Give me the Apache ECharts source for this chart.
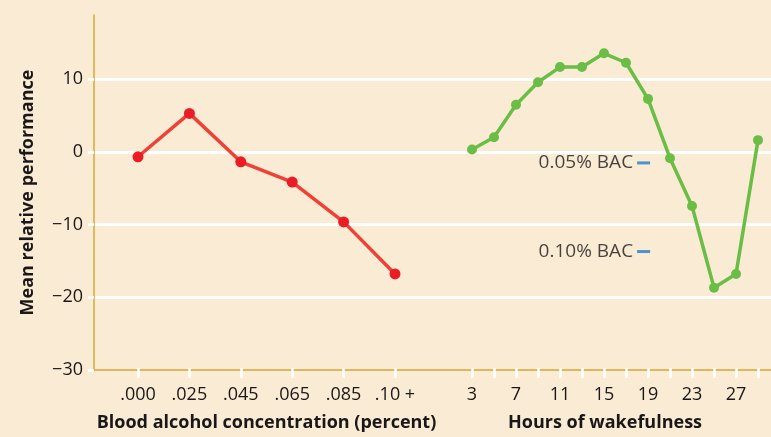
<!DOCTYPE html>
<html>
<head>
<meta charset="utf-8">
<script src="https://cdn.jsdelivr.net/npm/echarts@6/dist/echarts.min.js"></script>
<style>
html,body{margin:0;padding:0;background:#FAEBD4;}
#c{width:771px;height:437px;}
</style>
</head>
<body>
<div id="c"></div>
<script>
var bacCategories = ['.000', '.025', '.045', '.065', '.085', '.10 +'];
var bacValues = [-0.8, 5.2, -1.5, -4.3, -9.8, -17.0];
var hourCategories = ['3','5','7','9','11','13','15','17','19','21','23','25','27','29'];
var hourValues = [0.2, 1.9, 6.4, 9.5, 11.6, 11.6, 13.5, 12.2, 7.2, -1.0, -7.6, -18.9, -17.0, 1.5];
var refLabels = ['0.05% BAC', '0.10% BAC'];
var refValues = [-1.65, -13.9];
var refPosition = 8.3;
var yTicks = [-30, -20, -10, 0, 10];

var FONT = '"Open Sans", "Noto Sans", sans-serif';
var TXT = '#1A1718';
var chart = echarts.init(document.getElementById('c'));
var TOP = 15, BOTTOM = 67, YMIN = -30, YMAX = 18.8;

function hiddenY(gi) {
  return { gridIndex: gi, type: 'value', min: YMIN, max: YMAX, show: false };
}

chart.setOption({
  backgroundColor: '#FAEBD4',
  animation: false,
  grid: [
    { left: 94, right: 0, top: TOP, bottom: BOTTOM },
    { left: 112.3, width: 308.4, top: TOP, bottom: BOTTOM },
    { left: 461, width: 308, top: TOP, bottom: BOTTOM }
  ],
  xAxis: [
    { gridIndex: 0, type: 'value', min: 0, max: 1,
      axisLine: { show: true, onZero: false, lineStyle: { color: '#D9A733', width: 1.5 } },
      axisTick: { show: false }, axisLabel: { show: false }, splitLine: { show: false } },
    { gridIndex: 1, type: 'category', data: bacCategories, boundaryGap: true,
      axisLine: { show: false, onZero: false },
      axisTick: { show: true, alignWithLabel: true, interval: 0, length: 10, lineStyle: { color: '#FFFFFF', width: 2.5 } },
      axisLabel: { interval: 0, hideOverlap: false, margin: 18, color: TXT, fontSize: 18, fontFamily: FONT },
      name: 'Blood alcohol concentration (percent)', nameLocation: 'middle', nameGap: 46,
      nameTextStyle: { color: TXT, fontSize: 18, fontWeight: 'bold', fontFamily: FONT } },
    { gridIndex: 2, type: 'category', data: hourCategories, boundaryGap: true,
      axisLine: { show: false, onZero: false },
      axisTick: { show: true, alignWithLabel: true, interval: 0, length: 10, lineStyle: { color: '#FFFFFF', width: 2.5 } },
      axisLabel: { interval: 1, margin: 18, color: TXT, fontSize: 18, fontFamily: FONT },
      name: 'Hours of wakefulness', nameLocation: 'middle', nameGap: 46,
      nameTextStyle: { color: TXT, fontSize: 18, fontWeight: 'bold', fontFamily: FONT, padding: [0, 20, 0, 0] } },
    { gridIndex: 2, type: 'value', min: 0, max: 14, show: false }
  ],
  yAxis: [
    { gridIndex: 0, type: 'value', min: YMIN, max: YMAX, interval: 10,
      axisLine: { show: true, lineStyle: { color: '#D9A733', width: 1.5 } },
      axisTick: { show: true, length: 6, lineStyle: { color: '#FFFFFF', width: 2.5 } },
      axisLabel: { margin: 11, color: TXT, fontSize: 18, fontFamily: FONT, showMaxLabel: false,
        formatter: function (v) { return yTicks.indexOf(v) >= 0 ? (v < 0 ? '\u2212' + Math.abs(v) : String(v)) : ''; } },
      splitLine: { show: true, showMinLine: false, showMaxLine: false, lineStyle: { color: '#FFFFFF', width: 3 } },
      name: 'Mean relative performance', nameLocation: 'middle', nameGap: 57,
      nameTextStyle: { color: TXT, fontSize: 18, fontWeight: 'bold', fontFamily: FONT } },
    hiddenY(1),
    hiddenY(2)
  ],
  series: [
    { type: 'line', xAxisIndex: 1, yAxisIndex: 1, data: bacValues,
      symbol: 'circle', symbolSize: 11,
      lineStyle: { color: '#EF4136', width: 3.5 },
      itemStyle: { color: '#EC1C24' } },
    { type: 'line', xAxisIndex: 2, yAxisIndex: 2, data: hourValues,
      symbol: 'circle', symbolSize: 10,
      lineStyle: { color: '#6ABD45', width: 3.5 },
      itemStyle: { color: '#6ABD45' } },
    { type: 'scatter', xAxisIndex: 3, yAxisIndex: 2,
      data: refValues.map(function (v, i) { return { name: refLabels[i], value: [refPosition, v] }; }),
      symbol: 'rect', symbolSize: [13, 3],
      itemStyle: { color: '#1F7DC4' },
      label: { show: true, position: 'left', distance: 4, formatter: '{b}',
        color: TXT, fontSize: 19, fontFamily: FONT } }
  ]
});
</script>
</body>
</html>
